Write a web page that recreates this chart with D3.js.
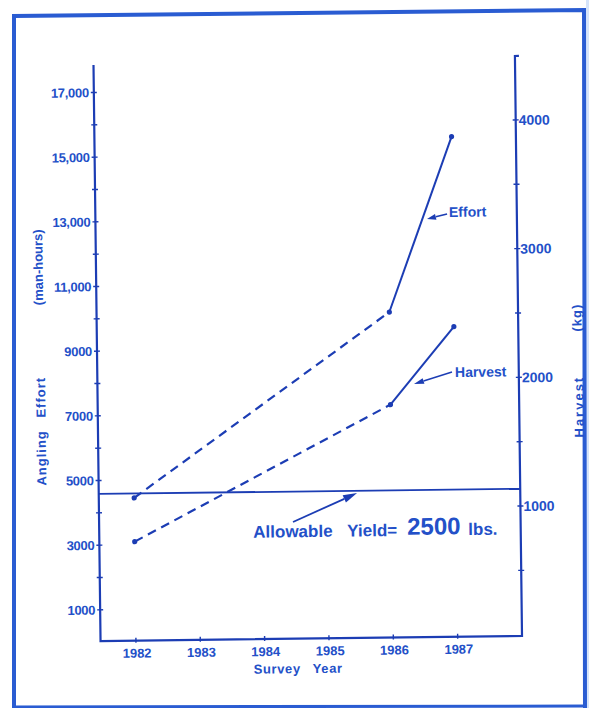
<!DOCTYPE html>
<html>
<head>
<meta charset="utf-8">
<script src="https://cdn.jsdelivr.net/npm/d3@7"></script>
<style>
  html, body { margin: 0; padding: 0; background: #ffffff; }
  svg { display: block; }
  text { font-family: "Liberation Sans", Arial, sans-serif; font-weight: bold; fill: #2350c8; }
</style>
</head>
<body>
<script>
// ---- data ----
const years = [1982, 1986, 1987];
const effort = [4450, 10100, 15500];      // man-hours (left axis)
const harvest = [760, 1800, 2400];        // kg (right axis)
const allowableKg = 1134;                 // 2500 lbs
const xTickYears = [1982, 1983, 1984, 1985, 1986, 1987];
const leftMajor = [1000, 3000, 5000, 7000, 9000, 11000, 13000, 15000, 17000];
const leftMinor = [2000, 4000, 6000, 8000, 10000, 12000, 14000, 16000];
const rightMajor = [1000, 2000, 3000, 4000];
const rightMinor = [500, 1500, 2500, 3500];
const leftLabels = ["1000", "3000", "5000", "7000", "9000", "11,000", "13,000", "15,000", "17,000"];

const W = 589, H = 708;
const lineCol = "#1c3db4";

const svg = d3.select("body").append("svg").attr("width", W).attr("height", H);

// frame
svg.append("rect").attr("x", 586).attr("y", 0).attr("width", 3).attr("height", H).attr("fill", "#d6e4fa");
svg.append("path")
  .attr("d", "M14,708 L14,16 L584,10 L585,708")
  .attr("fill", "none").attr("stroke", "#2a5cd2").attr("stroke-width", 4);
svg.append("line").attr("x1", 14).attr("x2", 586).attr("y1", 707).attr("y2", 706)
  .attr("stroke", "#2a5cd2").attr("stroke-width", 3);

const g = svg.append("g").attr("transform", "rotate(-0.7, 310, 350)");

const x = d3.scaleLinear().domain([1981.45, 1988.0]).range([97, 518.5]);
const yL = d3.scaleLinear().domain([0, 17850]).range([639.6, 62.4]);
const yR = d3.scaleLinear().domain([0, 4497]).range([637.3, 58.5]);
const baseY = 638.5;

// axes lines
g.append("path")
  .attr("d", `M${x.range()[0]},${yL.range()[1]} L${x.range()[0]},${baseY} L${x.range()[1]},${baseY} L${x.range()[1]},${yR.range()[1]} l4,0`)
  .attr("fill", "none").attr("stroke", lineCol).attr("stroke-width", 2.2);

// left ticks
const xl = x.range()[0], xr = x.range()[1];
g.selectAll(".lt").data(leftMajor.concat(leftMinor)).enter().append("line")
  .attr("x1", xl - 3).attr("x2", xl + 3)
  .attr("y1", d => yL(d)).attr("y2", d => yL(d))
  .attr("stroke", lineCol).attr("stroke-width", 1.4);
g.selectAll(".ll").data(leftMajor).enter().append("text")
  .attr("x", xl - 5).attr("y", d => yL(d)).attr("dy", "0.36em")
  .attr("text-anchor", "end").attr("font-size", 13).attr("letter-spacing", -0.3)
  .text((d, i) => leftLabels[i]);

// right ticks
g.selectAll(".rt").data(rightMajor.concat(rightMinor)).enter().append("line")
  .attr("x1", xr - 3).attr("x2", xr + 3)
  .attr("y1", d => yR(d)).attr("y2", d => yR(d))
  .attr("stroke", lineCol).attr("stroke-width", 1.4);
g.selectAll(".rl").data(rightMajor).enter().append("text")
  .attr("x", xr + 3).attr("y", d => yR(d)).attr("dy", "0.36em")
  .attr("text-anchor", "start").attr("font-size", 14)
  .text(d => d);

// x ticks
g.selectAll(".xt").data(xTickYears).enter().append("line")
  .attr("x1", d => x(d)).attr("x2", d => x(d))
  .attr("y1", baseY - 3).attr("y2", baseY + 2)
  .attr("stroke", lineCol).attr("stroke-width", 1.4);
g.selectAll(".xl").data(xTickYears).enter().append("text")
  .attr("x", d => x(d) + 1).attr("y", baseY + 17)
  .attr("text-anchor", "middle").attr("font-size", 13)
  .text(d => d);

// axis titles
g.append("text").attr("x", (x(1984) + x(1985)) / 2 + 1).attr("y", baseY + 34.5)
  .attr("text-anchor", "middle").attr("font-size", 13).attr("word-spacing", 8).attr("letter-spacing", 0.6)
  .text("Survey Year");
g.append("text").attr("transform", "translate(40,428) rotate(-90)").attr("dy", "0.36em")
  .attr("text-anchor", "middle").attr("font-size", 13).attr("letter-spacing", 1).attr("word-spacing", 8)
  .text("Angling Effort");
g.append("text").attr("transform", "translate(39,264) rotate(-90)").attr("dy", "0.36em")
  .attr("text-anchor", "middle").attr("font-size", 13)
  .text("(man-hours)");
g.append("text").attr("transform", "translate(578,410) rotate(-90)").attr("dy", "0.36em")
  .attr("text-anchor", "middle").attr("font-size", 13).attr("letter-spacing", 2)
  .text("Harvest");
g.append("text").attr("transform", "translate(577,321) rotate(-90)").attr("dy", "0.36em")
  .attr("text-anchor", "middle").attr("font-size", 13).attr("letter-spacing", 1)
  .text("(kg)");

// allowable yield line
g.append("line").attr("x1", xl).attr("x2", xr)
  .attr("y1", yR(allowableKg)).attr("y2", yR(allowableKg))
  .attr("stroke", lineCol).attr("stroke-width", 1.8);

// series
function drawSeries(vals, scale) {
  const pts = years.map((yr, i) => [x(yr), scale(vals[i])]);
  const line = d3.line();
  g.append("path").attr("d", line(pts.slice(0, 2)))
    .attr("fill", "none").attr("stroke", lineCol).attr("stroke-width", 2.2)
    .attr("stroke-dasharray", "9,6");
  g.append("path").attr("d", line(pts.slice(1, 3)))
    .attr("fill", "none").attr("stroke", lineCol).attr("stroke-width", 2);
  g.selectAll(null).data(pts).enter().append("circle")
    .attr("cx", d => d[0]).attr("cy", d => d[1]).attr("r", 2.6).attr("fill", lineCol);
}
drawSeries(effort, yL);
drawSeries(harvest, yR);

// arrows
function arrow(x1, y1, x2, y2, len, wid, sw) {
  const a = Math.atan2(y2 - y1, x2 - x1);
  const bx = x2 - len * Math.cos(a), by = y2 - len * Math.sin(a);
  g.append("line").attr("x1", x1).attr("y1", y1).attr("x2", bx).attr("y2", by)
    .attr("stroke", lineCol).attr("stroke-width", sw);
  const px = -Math.sin(a) * wid / 2, py = Math.cos(a) * wid / 2;
  g.append("path").attr("d", `M${x2},${y2} L${bx + px},${by + py} L${bx - px},${by - py} Z`)
    .attr("fill", lineCol);
}
arrow(448.7, 215.7, 428.6, 220.4, 9, 6, 1.6);
arrow(451.7, 373.7, 413.6, 385.3, 10, 6, 1.4);
arrow(290.9, 521.8, 355.3, 493.6, 14, 8, 1.8);

// labels
g.append("text").attr("x", 450.6).attr("y", 218.7).attr("font-size", 14).text("Effort");
g.append("text").attr("x", 454.7).attr("y", 378.8).attr("font-size", 14).text("Harvest");
const ay = g.append("text").attr("y", 537).attr("font-size", 17);
ay.append("tspan").attr("x", 251).text("Allowable");
ay.append("tspan").attr("x", 345).text("Yield=");
ay.append("tspan").attr("x", 405).attr("font-size", 24).attr("dy", -1).text("2500");
ay.append("tspan").attr("x", 466).attr("font-size", 17).attr("dy", 1).text("lbs.");
</script>
</body>
</html>
